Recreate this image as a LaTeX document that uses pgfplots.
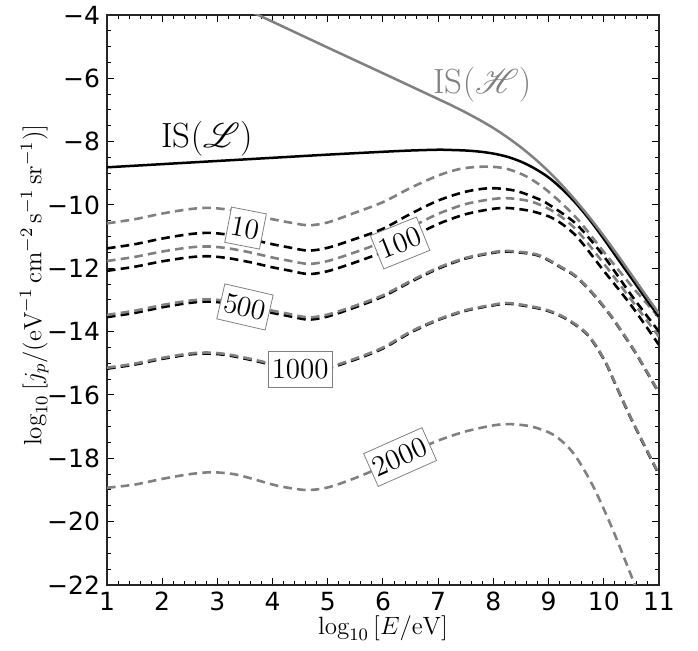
\documentclass[border=0pt]{standalone}
\usepackage{fix-cm}
\usepackage{amsmath}
\usepackage{mathrsfs}
\usepackage{fontspec}
\newfontfamily\dejavu{DejaVu Sans}
\usepackage{pgfplots}
\pgfplotsset{compat=1.18}
\definecolor{mgray}{RGB}{128,128,128}
\pgfplotsset{
  gdash/.style={mgray, line width=1.3pt, dash pattern=on 4.3pt off 2.6pt, smooth, no markers},
  bdash/.style={black, line width=1.3pt, dash pattern=on 4.3pt off 2.6pt, smooth, no markers},
}
\tikzset{
  clab/.style={draw=mgray, fill=white, line width=0.4pt, inner xsep=1.75pt, inner ysep=4pt, font=\fontsize{14.5}{16}\selectfont, text=black},
}
\begin{document}
\begin{tikzpicture}
\useasboundingbox (-53.5pt,-33pt) rectangle (295.5pt,292.5pt);
\begin{axis}[
  at={(0,0)}, anchor=south west,
  scale only axis, width=276pt, height=285pt,
  xmin=1, xmax=11, ymin=-22, ymax=-4,
  xtick={1,2,3,4,5,6,7,8,9,10,11},
  ytick={-22,-20,-18,-16,-14,-12,-10,-8,-6,-4},
  yticklabels={−22,−20,−18,−16,−14,−12,−10,−8,−6,−4},
  minor x tick num=4, minor y tick num=3,
  tick align=inside,
  major tick length=3.5pt, minor tick length=2pt,
  tick style={black, line width=0.5pt},
  tick label style={font=\dejavu\fontsize{12.5}{14}\selectfont},
  /pgf/number format/assume math mode=true,
  axis line style={black!85, line width=0.6pt},
  label style={font=\fontsize{12.5}{15}\selectfont},
  xlabel={$\log_{10}\,[E/\mathrm{eV}]$},
  ylabel={$\log_{10}\,[j_p/(\mathrm{eV}^{-1}\,\mathrm{cm}^{-2}\,\mathrm{s}^{-1}\,\mathrm{sr}^{-1})]$},
  xlabel style={at={(axis description cs:0.5,-0.0754)}, anchor=center},
  ylabel style={at={(axis description cs:-0.132,0.526)}, anchor=center},
]
% 10 / 100 family
\addplot[gdash] coordinates {(1.0,-10.58) (1.5,-10.45) (2.0,-10.27) (2.5,-10.13) (2.85,-10.09) (3.2,-10.15) (3.6,-10.29) (4.0,-10.45) (4.3,-10.55) (4.65,-10.64) (5.0,-10.55) (5.5,-10.24) (6.0,-9.91) (6.5,-9.46) (7.0,-9.07) (7.4,-8.86) (7.8,-8.79) (8.2,-8.84) (8.6,-9.10) (9.0,-9.58) (9.5,-10.40) (10.0,-11.48) (10.5,-12.55) (11.0,-13.55)};
\addplot[bdash] coordinates {(1.0,-11.37) (1.5,-11.24) (2.0,-11.06) (2.5,-10.92) (2.85,-10.88) (3.2,-10.94) (3.6,-11.08) (4.0,-11.24) (4.3,-11.34) (4.65,-11.44) (5.0,-11.35) (5.5,-11.07) (6.0,-10.75) (6.5,-10.28) (7.0,-9.86) (7.5,-9.58) (7.95,-9.47) (8.4,-9.55) (8.8,-9.80) (9.0,-9.98) (9.5,-10.60) (10.0,-11.62) (10.5,-12.85) (11.0,-14.0)};
\addplot[gdash] coordinates {(1.0,-11.77) (1.5,-11.64) (2.0,-11.47) (2.5,-11.34) (2.85,-11.31) (3.2,-11.37) (3.6,-11.50) (4.0,-11.66) (4.3,-11.76) (4.65,-11.86) (5.0,-11.77) (5.5,-11.49) (6.0,-11.16) (6.5,-10.71) (7.0,-10.28) (7.5,-9.97) (8.0,-9.81) (8.3,-9.79) (8.7,-9.90) (9.1,-10.22) (9.5,-10.78) (10.0,-11.85) (10.5,-13.0) (11.0,-14.16)};
\addplot[bdash] coordinates {(1.0,-12.08) (1.5,-11.95) (2.0,-11.78) (2.5,-11.65) (2.85,-11.62) (3.2,-11.68) (3.6,-11.81) (4.0,-11.97) (4.3,-12.07) (4.65,-12.18) (5.0,-12.09) (5.5,-11.81) (6.0,-11.48) (6.5,-11.03) (7.0,-10.60) (7.5,-10.29) (8.0,-10.12) (8.3,-10.10) (8.7,-10.20) (9.1,-10.44) (9.5,-10.98) (10.0,-12.08) (10.5,-13.18) (11.0,-14.42)};
% 500
\addplot[bdash] coordinates {(1.0,-13.54) (1.5,-13.41) (2.0,-13.23) (2.5,-13.09) (2.85,-13.05) (3.2,-13.11) (3.6,-13.25) (4.0,-13.41) (4.3,-13.51) (4.65,-13.62) (5.0,-13.52) (5.5,-13.23) (6.0,-12.89) (6.5,-12.43) (7.0,-12.01) (7.5,-11.69) (8.0,-11.51) (8.25,-11.47) (8.8,-11.59) (9.25,-12.0) (9.5,-12.27) (9.8,-12.80) (10.1,-13.44) (10.3,-13.94) (10.6,-14.74) (11.0,-15.94)};
\addplot[gdash] coordinates {(1.0,-13.47) (1.5,-13.34) (2.0,-13.16) (2.5,-13.02) (2.85,-12.98) (3.2,-13.04) (3.6,-13.18) (4.0,-13.34) (4.3,-13.44) (4.65,-13.55) (5.0,-13.46) (5.5,-13.18) (6.0,-12.85) (6.5,-12.40) (7.0,-11.98) (7.5,-11.67) (8.0,-11.49) (8.25,-11.45) (8.8,-11.57) (9.25,-11.98) (9.5,-12.25) (9.8,-12.78) (10.1,-13.42) (10.3,-13.92) (10.6,-14.72) (11.0,-15.92)};
% 1000
\addplot[bdash] coordinates {(1.0,-15.17) (1.5,-15.04) (2.0,-14.86) (2.5,-14.72) (2.85,-14.69) (3.2,-14.75) (3.6,-14.89) (4.0,-15.05) (4.3,-15.15) (4.65,-15.25) (5.0,-15.16) (5.5,-14.88) (6.0,-14.53) (6.5,-14.03) (7.0,-13.63) (7.5,-13.34) (8.0,-13.17) (8.3,-13.12) (8.9,-13.30) (9.3,-13.58) (9.7,-14.09) (10.0,-14.87) (10.2,-15.62) (10.5,-16.77) (11.0,-18.52)};
\addplot[gdash] coordinates {(1.0,-15.14) (1.5,-15.01) (2.0,-14.83) (2.5,-14.69) (2.85,-14.66) (3.2,-14.72) (3.6,-14.86) (4.0,-15.02) (4.3,-15.12) (4.65,-15.22) (5.0,-15.13) (5.5,-14.85) (6.0,-14.50) (6.5,-14.0) (7.0,-13.61) (7.5,-13.32) (8.0,-13.15) (8.3,-13.10) (8.9,-13.28) (9.3,-13.56) (9.7,-14.07) (10.0,-14.85) (10.2,-15.6) (10.5,-16.75) (11.0,-18.5)};
% 2000
\addplot[gdash] coordinates {(1.0,-18.93) (1.5,-18.83) (2.0,-18.65) (2.5,-18.50) (2.9,-18.44) (3.3,-18.50) (3.6,-18.63) (4.1,-18.87) (4.6,-19.0) (5.0,-18.92) (5.5,-18.62) (6.0,-18.25) (6.5,-17.82) (7.0,-17.44) (7.5,-17.15) (8.0,-16.96) (8.3,-16.92) (8.7,-17.0) (9.1,-17.27) (9.45,-17.84) (9.8,-18.86) (10.15,-20.2) (10.5,-21.72) (10.7,-22.6)};
% IS(L)
\addplot[black, line width=1.25pt, smooth, no markers] coordinates {(1.0,-8.81) (2.0,-8.71) (3.0,-8.61) (4.0,-8.51) (5.0,-8.41) (6.0,-8.32) (6.5,-8.28) (7.0,-8.255) (7.25,-8.264) (7.5,-8.28) (7.75,-8.315) (8.0,-8.377) (8.25,-8.477) (8.5,-8.632) (8.75,-8.85) (9.0,-9.13) (9.25,-9.505) (9.5,-9.955) (9.75,-10.48) (10.0,-11.07) (10.25,-11.69) (10.5,-12.31) (10.75,-12.93) (11.0,-13.53)};
% IS(H)
\addplot[mgray, line width=1.25pt, smooth, no markers] coordinates {(3.5,-3.80) (3.74,-4.0) (5.0,-5.03) (6.0,-5.84) (7.0,-6.655) (7.25,-6.86) (7.5,-7.08) (7.75,-7.315) (8.0,-7.57) (8.25,-7.86) (8.5,-8.18) (8.75,-8.54) (9.0,-8.94) (9.25,-9.39) (9.5,-9.88) (9.75,-10.41) (10.0,-10.98) (10.25,-11.58) (10.5,-12.2) (10.75,-12.82) (11.0,-13.43)};
% labels
\node[clab, rotate=-11] at (axis cs:3.51,-10.73) {10};
\node[clab, rotate=22] at (axis cs:6.31,-11.2) {100};
\node[clab, rotate=-13] at (axis cs:3.5,-13.22) {500};
\node[clab] at (axis cs:4.5,-15.2) {1000};
\node[clab, rotate=24] at (axis cs:6.31,-17.96) {2000};
\node[font=\fontsize{17.5}{20}\selectfont, text=black] at (axis cs:2.81,-7.92) {IS$(\mathscr{L})$};
\node[font=\fontsize{17.5}{20}\selectfont, text=mgray] at (axis cs:7.80,-6.21) {IS$(\mathscr{H})$};
\end{axis}
\end{tikzpicture}
\end{document}
